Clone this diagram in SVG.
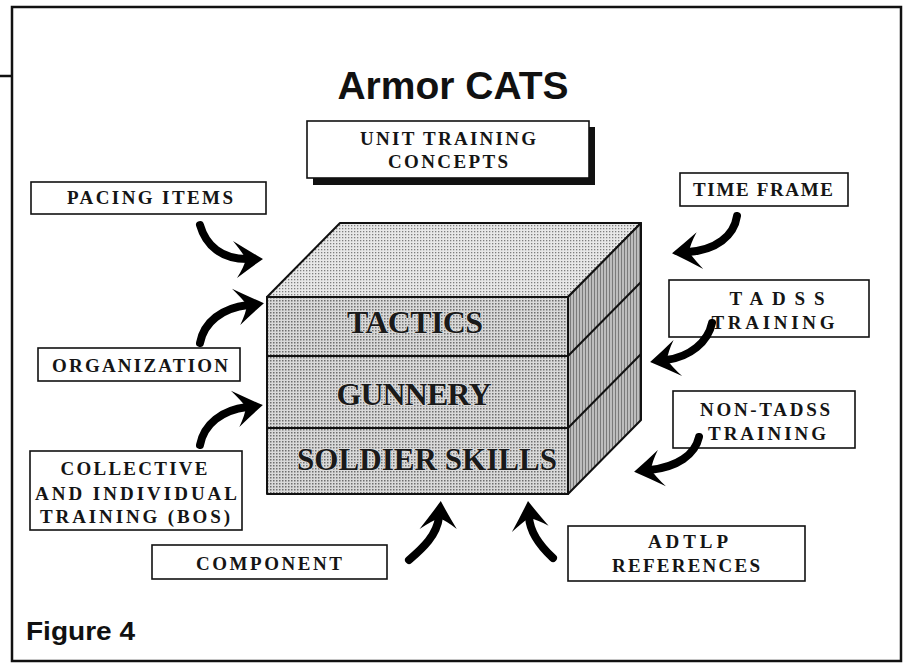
<svg xmlns="http://www.w3.org/2000/svg" width="909" height="665" viewBox="0 0 909 665">
<style>
.box{fill:#fff;stroke:#111;stroke-width:1.6}
.lbl{font-family:"Liberation Serif","Times New Roman",serif;font-size:19px;font-weight:bold;fill:#151515;text-anchor:middle}
.cube-t{font-family:"Liberation Serif","Times New Roman",serif;font-size:32px;font-weight:bold;fill:#1a1a1a;text-anchor:middle;stroke:#e0e0e0;stroke-width:1.4;paint-order:stroke}
.ol{stroke:#111;stroke-width:2;stroke-linejoin:round}
.arr{fill:none;stroke:#000;stroke-width:8;stroke-linecap:round;marker-end:url(#ah)}
</style>
<defs>
<pattern id="pFront" width="3" height="3" patternUnits="userSpaceOnUse"><rect width="3" height="3" fill="#d9d9d9"/><rect width="1.5" height="1.5" fill="#6e6e6e"/></pattern>
<pattern id="pTop" width="3" height="3" patternUnits="userSpaceOnUse"><rect width="3" height="3" fill="#e8e8e8"/><rect width="1.3" height="1.3" fill="#7e7e7e"/></pattern>
<pattern id="pSide" width="3" height="4" patternUnits="userSpaceOnUse"><rect width="3" height="4" fill="#bdbdbd"/><rect width="1" height="4" fill="#7a7a7a"/></pattern>
<marker id="ah" markerUnits="userSpaceOnUse" markerWidth="36" markerHeight="42" viewBox="-30 -21 36 42" refX="-13" refY="0" orient="auto">
<path d="M3,0 Q-11,-8 -27,-18 Q-18,-7 -14,0 Q-16,8 -23,19 Q-10,9 3,0 Z" fill="#000"/>
</marker>
</defs>
<rect width="909" height="665" fill="#fff"/>
<g id="frame" fill="none" stroke="#111">
<rect x="12" y="7" width="889" height="654" stroke-width="2.5"/>
<line x1="0" y1="76" x2="12" y2="76" stroke-width="2.5"/>
</g>
<g id="title"><text x="453" y="99" font-family="Liberation Sans,Arial,sans-serif" font-weight="bold" font-size="39" text-anchor="middle" fill="#111">Armor CATS</text></g>
<g id="unit-training-concepts">
<rect x="313" y="127" width="282" height="58" fill="#111"/>
<rect class="box" x="307" y="121" width="282" height="57"/>
<text class="lbl" x="448" y="145" textLength="176" lengthAdjust="spacing">UNIT TRAINING</text>
<text class="lbl" x="448" y="168" textLength="120" lengthAdjust="spacing">CONCEPTS</text>
</g>
<g id="pacing-items"><rect class="box" x="31" y="182" width="235" height="32"/>
<text class="lbl" x="150" y="204" textLength="166" lengthAdjust="spacing">PACING ITEMS</text></g>
<g id="time-frame"><rect class="box" x="680" y="173" width="168" height="33"/>
<text class="lbl" x="763" y="196" textLength="140" lengthAdjust="spacing">TIME FRAME</text></g>
<g id="tadss-training"><rect class="box" x="669" y="280" width="200" height="57"/>
<text class="lbl" x="777" y="305" textLength="95" lengthAdjust="spacing">TADSS</text>
<text class="lbl" x="773" y="329" textLength="123" lengthAdjust="spacing">TRAINING</text></g>
<g id="organization"><rect class="box" x="38" y="348" width="202" height="33"/>
<text class="lbl" x="140" y="372" textLength="176" lengthAdjust="spacing">ORGANIZATION</text></g>
<g id="non-tadss-training"><rect class="box" x="673" y="391" width="182" height="57"/>
<text class="lbl" x="765" y="416" textLength="130" lengthAdjust="spacing">NON-TADSS</text>
<text class="lbl" x="767" y="440" textLength="118" lengthAdjust="spacing">TRAINING</text></g>
<g id="collective"><rect class="box" x="30" y="451" width="212" height="79"/>
<text class="lbl" x="134" y="475" textLength="147" lengthAdjust="spacing">COLLECTIVE</text>
<text class="lbl" x="136" y="500" textLength="202" lengthAdjust="spacing">AND INDIVIDUAL</text>
<text class="lbl" x="135" y="523" textLength="190" lengthAdjust="spacing">TRAINING (BOS)</text></g>
<g id="component"><rect class="box" x="152" y="545" width="235" height="34"/>
<text class="lbl" x="269" y="570" textLength="146" lengthAdjust="spacing">COMPONENT</text></g>
<g id="adtlp-references"><rect class="box" x="568" y="526" width="237" height="55"/>
<text class="lbl" x="688" y="548" textLength="80" lengthAdjust="spacing">ADTLP</text>
<text class="lbl" x="686" y="572" textLength="148" lengthAdjust="spacing">REFERENCES</text></g>
<g id="cube">
<polygon class="ol" points="267,297 340,223 641,223 568,297" fill="url(#pTop)"/>
<polygon class="ol" points="568,297 641,223 641,420 568,494" fill="url(#pSide)"/>
<rect class="ol" x="267" y="297" width="301" height="197" fill="url(#pFront)"/>
<line class="ol" x1="267" y1="356" x2="568" y2="356"/>
<line class="ol" x1="267" y1="428" x2="568" y2="428"/>
<line class="ol" x1="568" y1="356" x2="641" y2="282"/>
<line class="ol" x1="568" y1="428" x2="641" y2="354"/>
<g id="tactics"><text class="cube-t" x="415" y="333" textLength="136" lengthAdjust="spacing">TACTICS</text></g>
<g id="gunnery"><text class="cube-t" x="414" y="405" textLength="155" lengthAdjust="spacing">GUNNERY</text></g>
<g id="soldier-skills"><text class="cube-t" x="427" y="470" textLength="260" lengthAdjust="spacingAndGlyphs">SOLDIER SKILLS</text></g>
</g>
<g id="connectors">
<path class="arr" d="M200,225 C206,246 222,259 247,259"/>
<path class="arr" d="M200,343 C204,322 222,308 248,305"/>
<path class="arr" d="M200,445 C204,424 222,410 247,407"/>
<path class="arr" d="M409,560 C423,548 437,535 439,517"/>
<path class="arr" d="M553,558 C540,546 530,533 529,517"/>
<path class="arr" d="M737,216 C734,236 716,250 688,252"/>
<path class="arr" d="M712,323 C708,342 690,357 666,360"/>
<path class="arr" d="M699,437 C695,455 677,467 650,470"/>
</g>
<g id="figure-label"><text x="26" y="640" font-family="Liberation Sans,Arial,sans-serif" font-weight="bold" font-size="25" fill="#111" textLength="109" lengthAdjust="spacingAndGlyphs">Figure 4</text></g>
</svg>
